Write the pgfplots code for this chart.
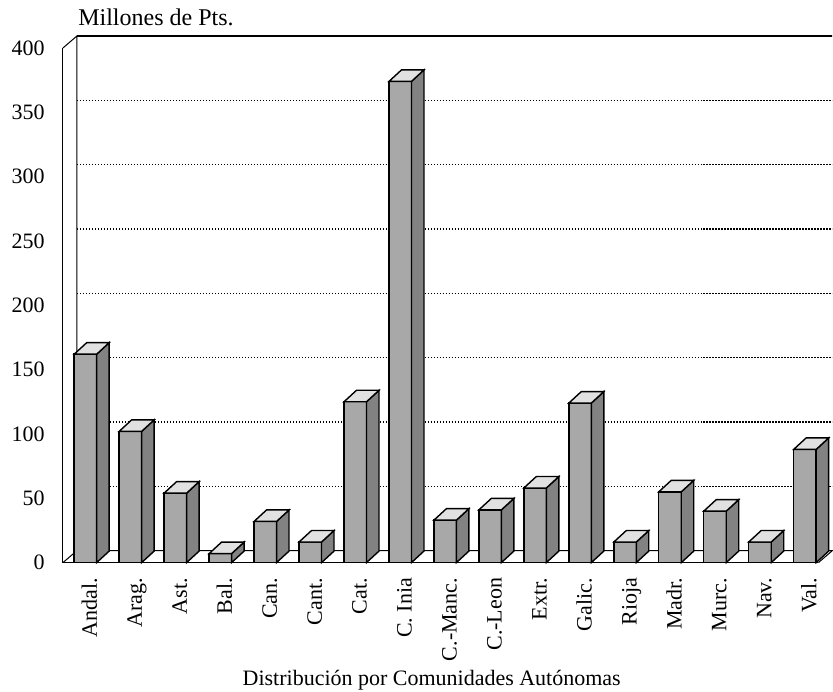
\documentclass[border=0pt]{standalone}
\usepackage{fontspec}
\setmainfont{Liberation Serif}
\usepackage{pgfplots}
\usepackage{pgfplotstable}
\pgfplotsset{compat=1.18}

\definecolor{barfront}{RGB}{168,168,168}
\definecolor{barside}{RGB}{130,130,130}
\definecolor{bartop}{RGB}{225,225,225}

% front face width 11.25pt, depth offset 6.25pt x 5.75pt
\pgfdeclareplotmark{bar3d}{%
  \pgfmathsetlengthmacro\barh{\barval*0.64375pt}%
  \pgfsetfillcolor{barside}%
  \pgfpathmoveto{\pgfpoint{5.625pt}{0pt}}%
  \pgfpathlineto{\pgfpoint{11.875pt}{5.75pt}}%
  \pgfpathlineto{\pgfpoint{11.875pt}{5.75pt-\barh}}%
  \pgfpathlineto{\pgfpoint{5.625pt}{-\barh}}%
  \pgfpathclose
  \pgfusepath{fill,stroke}%
  \pgfsetfillcolor{bartop}%
  \pgfpathmoveto{\pgfpoint{-5.625pt}{0pt}}%
  \pgfpathlineto{\pgfpoint{5.625pt}{0pt}}%
  \pgfpathlineto{\pgfpoint{11.875pt}{5.75pt}}%
  \pgfpathlineto{\pgfpoint{0.625pt}{5.75pt}}%
  \pgfpathclose
  \pgfusepath{fill,stroke}%
}

\pgfplotstableread{
x  value
0  162
1  102
2  54
3  7
4  32
5  16
6  125
7  374
8  33
9  41
10 58
11 124
12 16
13 55
14 40
15 16
16 88
}\comunidades

\begin{document}
\begin{tikzpicture}
\begin{axis}[
  x=22.5pt, y=0.64375pt,
  xmin=-0.5, xmax=16.3,
  ymin=0, ymax=400,
  clip=false,
  axis x line*=bottom,
  axis y line*=left,
  axis line style={line width=0.5pt},
  major tick length=0pt,
  ytick={0,50,...,400},
  xtick={0,...,16},
  xticklabels={Andal., Arag., Ast., Bal., Can., Cant., Cat., C. Inia,
    C.-Manc., C.-Leon, Extr., Galic., Rioja, Madr., Murc., Nav., Val.},
  tick label style={font=\fontsize{11}{13}\selectfont},
  /pgf/number format/assume math mode=true,
  yticklabel style={anchor=east, inner sep=0pt, xshift=-9pt},
  xticklabel style={inner sep=0pt, xshift=5.75pt, yshift=-7.5pt,
    rotate=90, anchor=base east},
  ymajorgrids,
  major grid style={black, line width=0.55pt, dash pattern=on 0.6pt off 0.9pt,
    xshift=7pt, yshift=6pt},
]
% walls and floor
\draw[line width=0.5pt] (axis cs:-0.5,0) -- ([shift={(7pt,6pt)}]axis cs:-0.5,0)
  -- ([shift={(7pt,6pt)}]axis cs:-0.5,400) -- (axis cs:-0.5,400);
\draw[line width=0.6pt] ([shift={(7pt,6pt)}]axis cs:-0.5,400)
  -- ([shift={(7pt,6pt)}]axis cs:16.3,400);
\draw[line width=0.5pt] ([shift={(7pt,6pt)}]axis cs:-0.5,0)
  -- ([shift={(7pt,6pt)}]axis cs:16.3,0) -- (axis cs:16.3,0);
\coordinate (o) at (axis cs:-0.5,0);

\addplot[ybar, bar width=11.25pt, fill=barfront, draw=black, line width=0.7pt]
  table[x=x, y=value] {\comunidades};
\addplot[only marks, mark=bar3d, visualization depends on={rawy \as \barval},
  mark options={draw=black, line width=0.7pt}]
  table[x=x, y=value] {\comunidades};

\node[anchor=base west, inner sep=0pt, font=\fontsize{12}{14}\selectfont]
  at ([shift={(7.5pt,11pt)}]axis cs:-0.5,400) {Millones de Pts.};
\node[anchor=base, inner sep=0pt, font=\fontsize{11}{13}\selectfont]
  at ([yshift=-61.5pt]axis cs:7.7,0) {Distribución por Comunidades Autónomas};
\end{axis}
\useasboundingbox (o) ++(-31.5pt,-64.5pt) rectangle ++(416.5pt,346pt);
\end{tikzpicture}
\end{document}
